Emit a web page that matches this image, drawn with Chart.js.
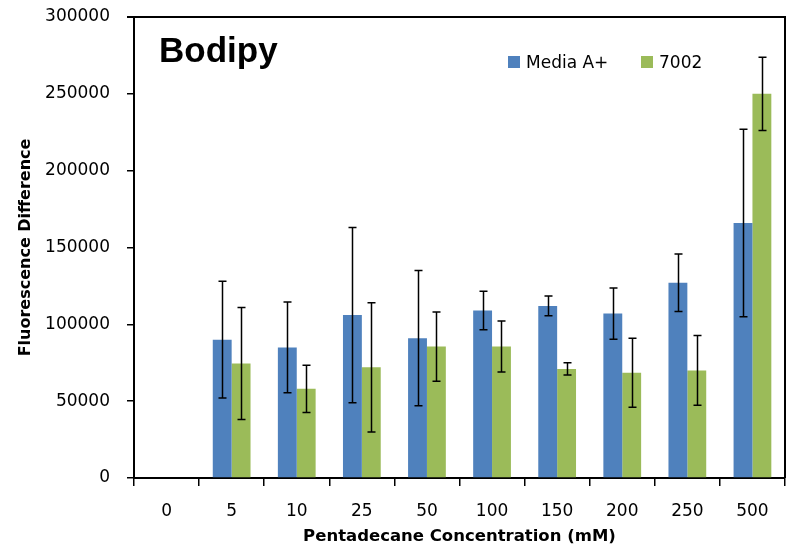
<!DOCTYPE html>
<html>
<head>
<meta charset="utf-8">
<script src="https://cdn.jsdelivr.net/npm/chart.js@4"></script>
<style>
  html, body { margin: 0; padding: 0; background: #fff; }
  #wrap { width: 786px; height: 550px; }
</style>
</head>
<body>
<div id="wrap"><canvas id="chart" width="786" height="550"></canvas></div>
<script>
// Concentration categories (mM)
const concentrations = ['0', '5', '10', '25', '50', '100', '150', '200', '250', '500'];

// Media A+ series
const mediaValues = [null, 90000, 85000, 106000, 91000, 109000, 112000, 107000, 127000, 166000];
const mediaErrors = [null, 38000, 29500, 57000, 44000, 12500, 6400, 16700, 18700, 61000];

// 7002 series
const strainValues = [null, 74500, 58000, 72000, 85500, 85500, 71000, 68500, 70000, 250000];
const strainErrors = [null, 36500, 15300, 42000, 22500, 16600, 4000, 22500, 22700, 23800];

const yTicks = [0, 50000, 100000, 150000, 200000, 250000, 300000];

const BLUE = '#4F81BD';
const GREEN = '#9BBB59';
const FONT = '"DejaVu Sans", sans-serif';

// error bars, frame, title and legend
const extrasPlugin = {
  id: 'extras',
  afterDatasetsDraw(chart) {
    const ctx = chart.ctx;
    const yScale = chart.scales.y;
    const errs = [mediaErrors, strainErrors];
    ctx.save();
    ctx.strokeStyle = '#000';
    ctx.lineWidth = 1.5;
    chart.data.datasets.forEach((ds, di) => {
      const meta = chart.getDatasetMeta(di);
      meta.data.forEach((bar, i) => {
        const v = ds.data[i];
        const e = errs[di][i];
        if (v == null || e == null) return;
        const x = Math.round(bar.x) + 0.5;
        const yTop = yScale.getPixelForValue(v + e);
        const yBot = yScale.getPixelForValue(v - e);
        ctx.beginPath();
        ctx.moveTo(x, yTop); ctx.lineTo(x, yBot);
        ctx.moveTo(x - 4, yTop); ctx.lineTo(x + 4, yTop);
        ctx.moveTo(x - 4, yBot); ctx.lineTo(x + 4, yBot);
        ctx.stroke();
      });
    });

    // top and right frame lines
    const a = chart.chartArea;
    ctx.lineWidth = 2;
    ctx.beginPath();
    ctx.moveTo(a.left - 7, a.top);
    ctx.lineTo(a.right, a.top);
    ctx.lineTo(a.right, a.bottom);
    ctx.stroke();

    // title inside plot
    ctx.fillStyle = '#000';
    ctx.textBaseline = 'alphabetic';
    ctx.font = 'bold 35px "Liberation Sans", Arial, sans-serif';
    ctx.fillText('Bodipy', 159, 62);

    // legend
    ctx.font = '17px ' + FONT;
    const items = [
      { label: chart.data.datasets[0].label, color: BLUE, x: 508 },
      { label: chart.data.datasets[1].label, color: GREEN, x: 641 }
    ];
    items.forEach(it => {
      ctx.fillStyle = it.color;
      ctx.fillRect(it.x, 56, 12, 12);
      ctx.fillStyle = '#000';
      ctx.fillText(it.label, it.x + 18, 68);
    });
    ctx.restore();
  }
};

new Chart(document.getElementById('chart'), {
  type: 'bar',
  data: {
    labels: concentrations,
    datasets: [
      { label: 'Media A+', data: mediaValues, backgroundColor: BLUE },
      { label: '7002', data: strainValues, backgroundColor: GREEN }
    ]
  },
  options: {
    responsive: false,
    animation: false,
    devicePixelRatio: 1,
    layout: { padding: { top: 17, right: 1, left: 0, bottom: 0 } },
    datasets: {
      bar: { categoryPercentage: 0.58, barPercentage: 1.0 }
    },
    plugins: {
      legend: { display: false },
      tooltip: { enabled: false }
    },
    scales: {
      x: {
        grid: {
          offset: true,
          drawOnChartArea: false,
          drawTicks: true,
          tickLength: 8,
          color: '#000',
          lineWidth: 1.5
        },
        border: { color: '#000', width: 2 },
        ticks: {
          color: '#000',
          font: { family: FONT, size: 17 },
          padding: 15,
          maxRotation: 0
        },
        title: {
          display: true,
          text: 'Pentadecane Concentration (mM)',
          color: '#000',
          font: { family: FONT, size: 16.5, weight: 'bold' },
          padding: { top: 4, bottom: 3 }
        },
        afterFit(scale) {
          scale.height = 72;
          scale.paddingLeft = 0;
          scale.paddingRight = 0;
        }
      },
      y: {
        min: 0,
        max: 300000,
        afterBuildTicks(scale) { scale.ticks = yTicks.map(v => ({ value: v })); },
        grid: {
          drawOnChartArea: false,
          drawTicks: true,
          tickLength: 7,
          color: '#000',
          lineWidth: 1.5
        },
        border: { color: '#000', width: 2 },
        ticks: {
          color: '#000',
          font: { family: FONT, size: 17 },
          padding: 17,
          callback: v => String(v)
        },
        title: {
          display: true,
          text: 'Fluorescence Difference',
          color: '#000',
          font: { family: FONT, size: 16, weight: 'bold' },
          padding: { top: 16, bottom: 0 }
        },
        afterFit(scale) {
          scale.width = 134;
          scale.paddingTop = 0;
          scale.paddingBottom = 0;
        }
      }
    }
  },
  plugins: [extrasPlugin]
});
</script>
</body>
</html>
